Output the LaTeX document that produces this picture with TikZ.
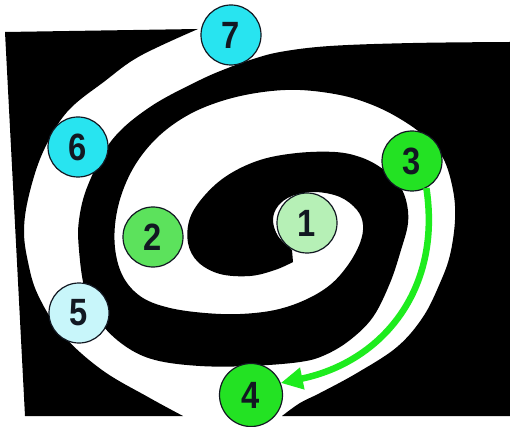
\documentclass[tikz,border=0pt]{standalone}
\usepackage{fontspec}
\setmainfont{Liberation Sans}
\usetikzlibrary{arrows.meta}
\definecolor{cyanA}{RGB}{40,228,240}
\definecolor{cyanB}{RGB}{200,246,250}
\definecolor{grnA}{RGB}{182,240,182}
\definecolor{grnB}{RGB}{92,226,92}
\definecolor{grnC}{RGB}{35,226,35}
\definecolor{arrowgrn}{RGB}{30,236,30}
\definecolor{digit}{RGB}{18,24,34}
\newcommand{\dg}[1]{\scalebox{0.86}[1]{#1}}
\tikzset{
  num/.style={circle, draw=digit, line width=1.2pt, minimum size=60pt, inner sep=0pt,
    font=\bfseries\fontsize{38}{38}\selectfont, text=digit},
  blk/.style={fill=black},
  flow/.style={draw=arrowgrn, line width=6.5pt, -{Triangle[length=22pt,width=21pt]}}
}
\begin{document}
\begin{tikzpicture}[x=1pt,y=-1pt]
\useasboundingbox (0,0) rectangle (510,427);
\fill[white] (0,0) rectangle (510,427);
% left black region
\fill[blk] (5,32) -- (198,29) -- plot[smooth,tension=0.6] coordinates {(198,29) (140,56) (105,81) (67,112) (43,152) (29,195) (24,230) (28,262) (38,295) (63,335) (102,370) (148,397) (183,416)} -- (25,416) -- cycle;
% main black spiral piece
\fill[blk] plot[smooth,tension=0.6] coordinates {(510,42) (413,43) (330,46) (280,52) (250,60) (233,66) (200,80) (150,107) (112,140) (88,185) (79,220) (79,250) (85,290) (100,322) (125,346) (155,360) (200,366) (250,366) (300,362) (325,355) (350,340) (373,317) (390,283) (401,250) (408,223) (406,200) (397,182) (380,167) (360,157) (335,152) (297,153) (260,160) (228,175) (205,195) (190,218) (188,243) (198,262) (220,274) (250,276) (275,270) (293,262)}
 -- plot[smooth,tension=0.6] coordinates {(292,250) (278,236) (273,220) (278,206) (292,196) (315,192) (340,197) (357,210) (363,225) (360,243) (348,265) (330,285) (305,300) (275,310) (240,314) (205,313) (170,308) (143,298) (125,280) (116,255) (115,225) (122,193) (137,162) (160,135) (190,114) (225,100) (263,92) (300,90) (340,95) (370,104) (397,117) (423,135) (443,158) (453,190) (455,220) (450,255) (440,283) (423,317) (397,347) (357,373) (320,393) (300,403) (282,416)}
 -- (510,416) -- cycle;
% numbered circles
\node[num, fill=grnA] (n1) at (307,223) {\dg{1}};
\node[num, fill=grnB] (n2) at (153,237) {\dg{2}};
\node[num, fill=grnC] (n3) at (412,161) {\dg{3}};
\node[num, fill=grnC, minimum size=63pt] (n4) at (251,395) {\dg{4}};
\node[num, fill=cyanB] (n5) at (79,313) {\dg{5}};
\node[num, fill=cyanA] (n6) at (78,147) {\dg{6}};
\node[num, fill=cyanA] (n7) at (231,35) {\dg{7}};
% arrow from 3 to 4
\draw[flow] (n3.-62) .. controls (442,290) and (382,362) .. (n4.22);
\end{tikzpicture}
\end{document}
